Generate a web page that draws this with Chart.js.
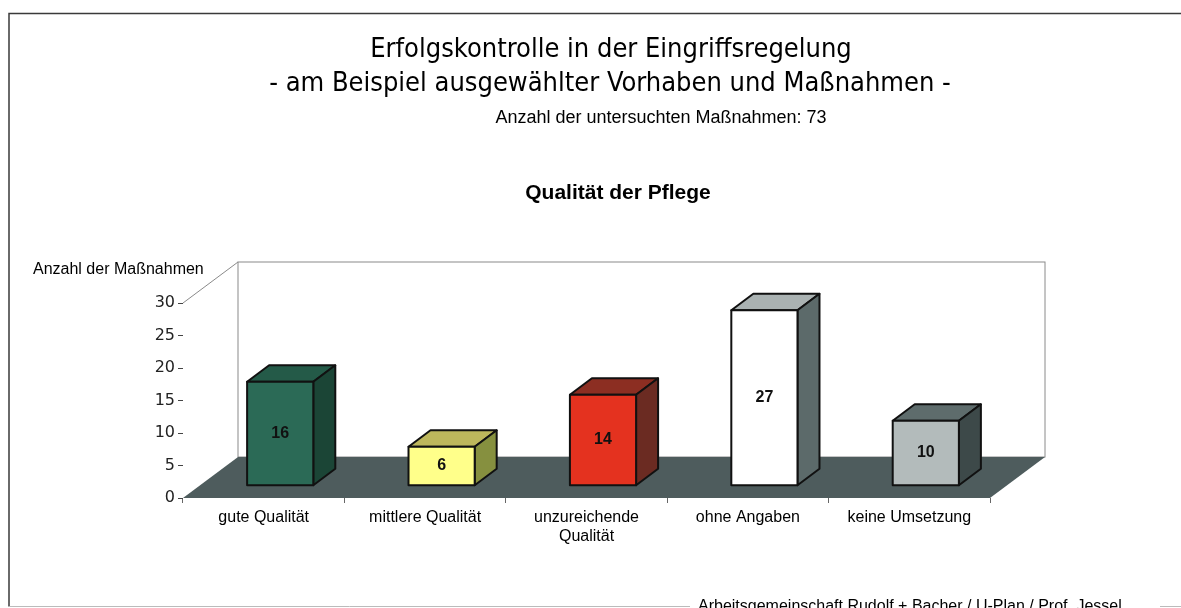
<!DOCTYPE html>
<html>
<head>
<meta charset="utf-8">
<script src="https://cdn.jsdelivr.net/npm/chart.js@4.4.0/dist/chart.umd.min.js"></script>
<style>
html, body { margin: 0; padding: 0; background: #fff; overflow: hidden; }
</style>
</head>
<body>
<canvas id="chart" width="1181" height="608"></canvas>
<script>
// data
const categories = ['gute Qualität', 'mittlere Qualität', ['unzureichende', 'Qualität'], 'ohne Angaben', 'keine Umsetzung'];
const values = [16, 6, 14, 27, 10];
const yTicks = [0, 5, 10, 15, 20, 25, 30];

// face colours of the 3d boxes
const frontColors = ['#2b6a56', '#ffff8a', '#e4321f', '#ffffff', '#b3bbbb'];
const topColors = ['#245a48', '#bdb75c', '#8c2e22', '#aab2b2', '#5e6c6c'];
const sideColors = ['#1b4536', '#86903f', '#6b2b22', '#5c6a6a', '#3d4949'];

const depth = { dx: 55, dy: -41 };   // full floor depth
const barFront = 0.3, barBack = 0.7; // box position inside the depth

Chart.defaults.font.family = "'Liberation Sans', Arial, sans-serif";
Chart.defaults.color = '#000';

function poly(ctx, pts, fill) {
    ctx.beginPath();
    ctx.moveTo(pts[0][0], pts[0][1]);
    for (let k = 1; k < pts.length; k++) ctx.lineTo(pts[k][0], pts[k][1]);
    ctx.closePath();
    ctx.fillStyle = fill;
    ctx.fill();
    ctx.stroke();
}

const scene3d = {
    id: 'scene3d',
    beforeDraw(chart) {
        const { ctx, chartArea: a } = chart;
        ctx.save();
        ctx.fillStyle = '#fff';
        ctx.fillRect(0, 0, chart.width, chart.height);

        // page frame
        ctx.strokeStyle = '#3a3a3a';
        ctx.lineWidth = 1.5;
        ctx.beginPath();
        ctx.moveTo(chart.width, 13.5);
        ctx.lineTo(9, 13.5);
        ctx.lineTo(9, 606.5);
        ctx.stroke();
        ctx.strokeStyle = '#bbb';
        ctx.lineWidth = 1;
        ctx.beginPath();
        ctx.moveTo(9, 606.5);
        ctx.lineTo(690, 606.5);
        ctx.moveTo(1160, 606.5);
        ctx.lineTo(chart.width, 606.5);
        ctx.stroke();

        // back wall + side wall edge
        ctx.strokeStyle = '#8a8a8a';
        ctx.lineWidth = 1;
        ctx.strokeRect(a.left + depth.dx, a.top + depth.dy, a.right - a.left, a.bottom - a.top);
        ctx.beginPath();
        ctx.moveTo(a.left, a.top);
        ctx.lineTo(a.left + depth.dx, a.top + depth.dy);
        ctx.stroke();

        // floor
        ctx.fillStyle = '#4e5c5d';
        ctx.beginPath();
        ctx.moveTo(a.left, a.bottom);
        ctx.lineTo(a.right, a.bottom);
        ctx.lineTo(a.right + depth.dx, a.bottom + depth.dy);
        ctx.lineTo(a.left + depth.dx, a.bottom + depth.dy);
        ctx.closePath();
        ctx.fill();
        ctx.restore();
    },
    // boxes are drawn here from the bar elements; default flat bars are skipped
    beforeDatasetsDraw(chart) {
        const ctx = chart.ctx;
        const meta = chart.getDatasetMeta(0);
        const ox = depth.dx * barFront, oy = depth.dy * barFront;
        const bx = depth.dx * (barBack - barFront), by = depth.dy * (barBack - barFront);
        ctx.save();
        ctx.strokeStyle = '#111';
        ctx.lineWidth = 2;
        ctx.lineJoin = 'round';
        meta.data.forEach((bar, i) => {
            const p = bar.getProps(['x', 'y', 'base', 'width'], true);
            const l = p.x - p.width / 2 + ox, r = p.x + p.width / 2 + ox;
            const t = p.y + oy, b = p.base + oy;
            poly(ctx, [[l, t], [r, t], [r + bx, t + by], [l + bx, t + by]], topColors[i]);
            poly(ctx, [[r, t], [r + bx, t + by], [r + bx, b + by], [r, b]], sideColors[i]);
            poly(ctx, [[l, t], [r, t], [r, b], [l, b]], frontColors[i]);
        });

        // value labels in the middle of the front face
        ctx.fillStyle = '#111';
        ctx.font = "bold 16px 'Liberation Sans', Arial, sans-serif";
        ctx.textAlign = 'center';
        ctx.textBaseline = 'middle';
        meta.data.forEach((bar, i) => {
            const p = bar.getProps(['x', 'y', 'base'], true);
            ctx.fillText(String(values[i]), p.x + ox, (p.y + p.base) / 2 + oy);
        });
        ctx.restore();
        return false;
    },
    afterDraw(chart) {
        const ctx = chart.ctx;
        ctx.save();
        ctx.fillStyle = '#000';
        ctx.textAlign = 'center';
        ctx.textBaseline = 'middle';
        ctx.font = "27px 'DejaVu Sans Condensed', 'Liberation Sans Narrow', 'Noto Sans', sans-serif";
        ctx.fillText('Erfolgskontrolle in der Eingriffsregelung', 611, 50);
        ctx.fillText('- am Beispiel ausgewählter Vorhaben und Maßnahmen -', 610, 84);
        ctx.font = "18px 'Liberation Sans', Arial, sans-serif";
        ctx.fillText('Anzahl der untersuchten Maßnahmen: 73', 661, 118);
        ctx.font = "bold 21px 'Liberation Sans', Arial, sans-serif";
        ctx.fillText('Qualität der Pflege', 618, 193);
        ctx.textAlign = 'left';
        ctx.font = "16px 'Liberation Sans', Arial, sans-serif";
        ctx.fillText('Anzahl der Maßnahmen', 33, 270);
        ctx.textBaseline = 'alphabetic';
        ctx.fillText('Arbeitsgemeinschaft Rudolf + Bacher / U-Plan / Prof. Jessel', 698, 611);
        ctx.restore();
    }
};

new Chart(document.getElementById('chart'), {
    type: 'bar',
    data: {
        labels: categories,
        datasets: [{
            data: values,
            backgroundColor: frontColors,
            barPercentage: 0.82,
            categoryPercentage: 0.5
        }]
    },
    options: {
        responsive: false,
        animation: false,
        devicePixelRatio: 1,
        layout: { padding: { left: 0, right: 191, top: 303, bottom: 0 } },
        scales: {
            x: {
                afterFit(scale) { scale.height = 110; },
                border: { display: false },
                grid: { drawOnChartArea: false, tickLength: 5, color: '#666' },
                ticks: { font: { size: 16 }, color: '#000', padding: 5, maxRotation: 0 }
            },
            y: {
                min: yTicks[0],
                max: yTicks[yTicks.length - 1],
                afterFit(scale) { scale.width = 183; },
                border: { display: false },
                grid: { drawOnChartArea: false, tickLength: 5, color: '#444' },
                ticks: {
                    stepSize: yTicks[1] - yTicks[0],
                    font: { family: "'DejaVu Sans', sans-serif", size: 16 },
                    color: '#222',
                    padding: 3
                }
            }
        },
        plugins: {
            legend: { display: false },
            tooltip: { enabled: false },
            title: { display: false }
        }
    },
    plugins: [scene3d]
});
</script>
</body>
</html>
